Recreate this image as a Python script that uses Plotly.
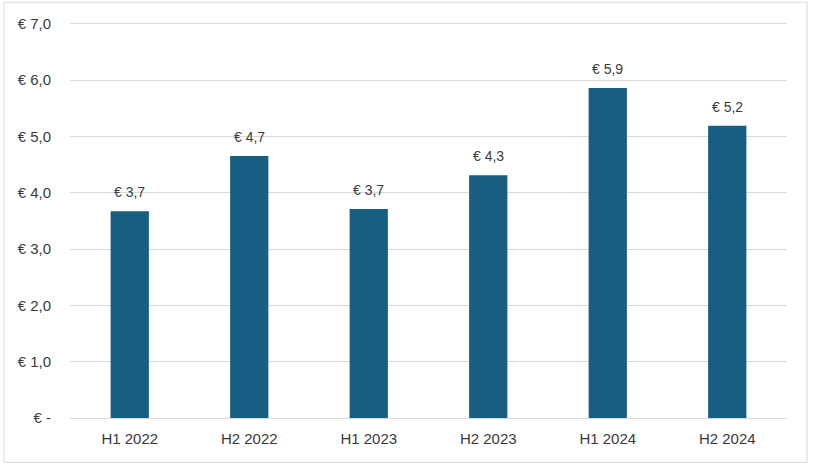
import plotly.graph_objects as go

categories = ["H1 2022", "H2 2022", "H1 2023", "H2 2023", "H1 2024", "H2 2024"]
values = [3.67, 4.65, 3.71, 4.31, 5.86, 5.19]
tick_values = [0, 1, 2, 3, 4, 5, 6, 7]
tick_labels = ["€ -", "€ 1,0", "€ 2,0", "€ 3,0", "€ 4,0", "€ 5,0", "€ 6,0", "€ 7,0"]

bar_text = ["€ " + f"{v:.1f}".replace(".", ",") for v in values]

FONT = "Liberation Sans, Arial"
TXT = "#3a3a3a"

fig = go.Figure(
    go.Bar(
        x=categories,
        y=values,
        marker=dict(color="#185e81", line=dict(width=0)),
        hoverinfo="skip",
    )
)

annotations = [
    dict(
        x=c, y=v, xref="x", yref="y", text=t, showarrow=False,
        yanchor="middle", yshift=19,
        font=dict(family=FONT, size=14, color=TXT),
    )
    for c, v, t in zip(categories, values, bar_text)
]

fig.update_layout(
    width=818,
    height=475,
    margin=dict(l=70, r=31, t=22, b=57),
    paper_bgcolor="white",
    plot_bgcolor="white",
    bargap=0.68,
    showlegend=False,
    font=dict(family=FONT, size=15, color=TXT),
    annotations=annotations,
    xaxis=dict(
        showgrid=False,
        showline=False,
        ticks="",
        tickfont=dict(size=15, color=TXT),
        ticklabelstandoff=10,
    ),
    yaxis=dict(
        range=[0, 7.03],
        tickvals=tick_values,
        ticktext=tick_labels,
        showgrid=True,
        gridcolor="#d9d9d9",
        gridwidth=1,
        zeroline=True,
        zerolinecolor="#d9d9d9",
        zerolinewidth=1,
        showline=False,
        ticks="",
        tickfont=dict(size=15, color=TXT),
        ticklabelstandoff=18,
    ),
    shapes=[
        dict(
            type="rect",
            xref="paper",
            yref="paper",
            x0=-0.092,
            x1=1.028,
            y0=-0.112,
            y1=1.05,
            line=dict(color="#d9d9d9", width=1),
            fillcolor="rgba(0,0,0,0)",
            layer="below",
        )
    ],
)

fig.write_html(
    "out.html",
    config={"displayModeBar": False},
    post_script="document.body.style.margin='0';",
)
